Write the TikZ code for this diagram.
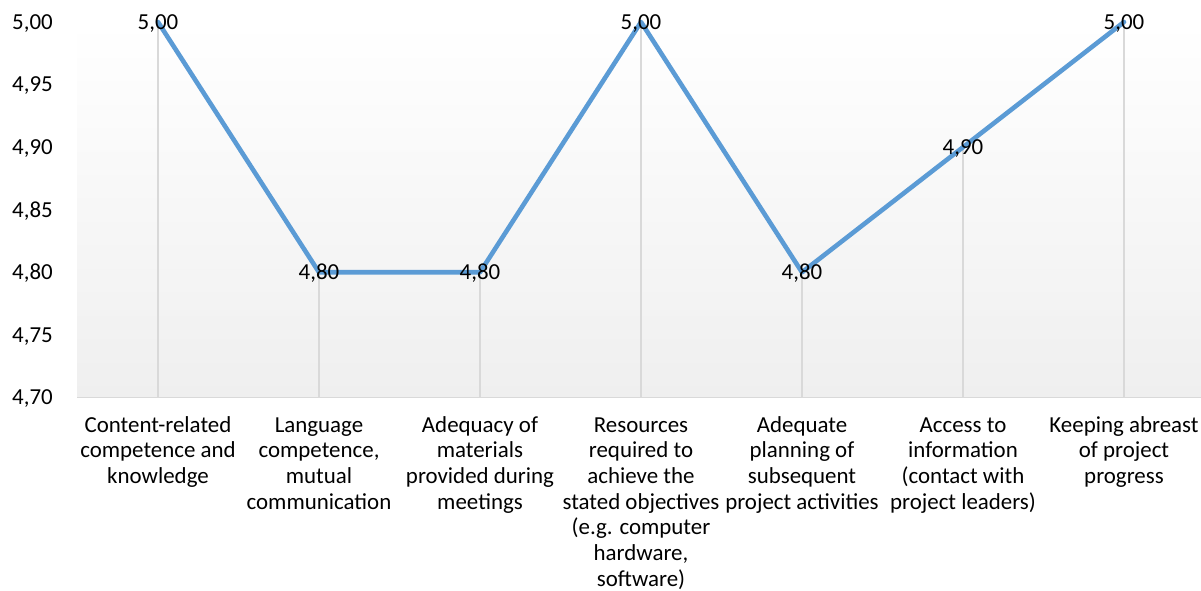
\documentclass[tikz,border=0pt]{standalone}
\usepackage{fontspec}
\setmainfont{Carlito}
\definecolor{serieblue}{RGB}{91,155,213}
\definecolor{gridgray}{RGB}{217,217,217}
\definecolor{plotbot}{RGB}{239,239,239}
\begin{document}
\begin{tikzpicture}[x=1bp,y=-1bp,
  txt/.style={font=\fontsize{23}{25.8}\selectfont, text=black, inner sep=0pt},
  ticklbl/.style={txt, anchor=base east, yshift=-7.4bp},
  datalbl/.style={txt, anchor=base, yshift=-7.4bp},
  catlbl/.style={txt, anchor=north, align=center},
  dropline/.style={draw=gridgray, line width=1.5bp},
  series/.style={draw=serieblue, line width=4.6bp, line join=round, line cap=round}]
\useasboundingbox (0,0) rectangle (1201,591);
% plot area
\shade[top color=white, bottom color=plotbot] (77,22) rectangle (1201,397.5);
\coordinate (axL) at (77,397.5);
\coordinate (axR) at (1201,397.5);
\draw[gridgray, line width=1.5bp] (axL) -- (axR);
% y tick labels
\node[ticklbl] (t500) at (53,22) {5,00};
\node[ticklbl] (t495) at (53,84.6) {4,95};
\node[ticklbl] (t490) at (53,147.2) {4,90};
\node[ticklbl] (t485) at (53,209.7) {4,85};
\node[ticklbl] (t480) at (53,272.3) {4,80};
\node[ticklbl] (t475) at (53,334.9) {4,75};
\node[ticklbl] (t470) at (53,397.5) {4,70};
% data points
\coordinate (p1) at (158,22);
\coordinate (p2) at (319,272.3);
\coordinate (p3) at (480,272.3);
\coordinate (p4) at (641,22);
\coordinate (p5) at (802,272.3);
\coordinate (p6) at (963,147.2);
\coordinate (p7) at (1124,22);
\foreach \i in {1,...,7} {
  \coordinate (b\i) at (p\i |- axL);
  \draw[dropline] (p\i) -- (b\i);
}
\draw[series] (p1) -- (p2) -- (p3) -- (p4) -- (p5) -- (p6) -- (p7);
% data labels
\node[datalbl] (l1) at (p1) {5,00};
\node[datalbl] (l2) at (p2) {4,80};
\node[datalbl] (l3) at (p3) {4,80};
\node[datalbl] (l4) at (p4) {5,00};
\node[datalbl] (l5) at (p5) {4,80};
\node[datalbl] (l6) at (p6) {4,90};
\node[datalbl] (l7) at (p7) {5,00};
% category labels
\node[catlbl] (c1) at (158,413.9) {\strut Content-related\\competence and\\knowledge};
\node[catlbl] (c2) at (319,413.9) {\strut Language\\competence,\\mutual\\communication};
\node[catlbl] (c3) at (480,413.9) {\strut Adequacy of\\materials\\provided during\\meetings};
\node[catlbl] (c4) at (641,413.9) {\strut Resources\\required to\\achieve the\\stated objectives\\(e.g. computer\\hardware,\\software)};
\node[catlbl] (c5) at (802,413.9) {\strut Adequate\\planning of\\subsequent\\project activities};
\node[catlbl] (c6) at (963,413.9) {\strut Access to\\information\\(contact with\\project leaders)};
\node[catlbl] (c7) at (1124,413.9) {\strut Keeping abreast\\of project\\progress};
\end{tikzpicture}
\end{document}
